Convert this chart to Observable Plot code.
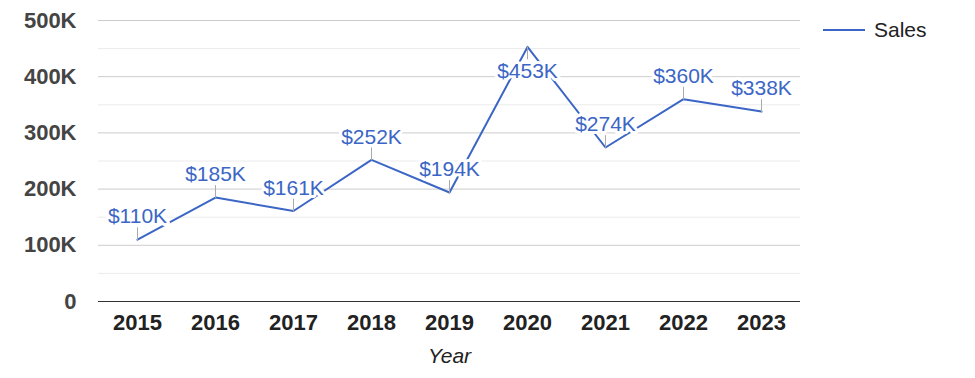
<!DOCTYPE html>
<html>
<head>
<meta charset="utf-8">
<script src="https://cdn.jsdelivr.net/npm/d3@7"></script>
<script src="https://cdn.jsdelivr.net/npm/@observablehq/plot@0.6"></script>
<style>
  html, body { margin: 0; padding: 0; background: #fff; }
  #wrap { position: relative; width: 975px; height: 378px; font-family: "Liberation Sans", Arial, sans-serif; }
  #legend { position: absolute; left: 823px; top: 16px; display: flex; align-items: center; font-size: 21px; color: #222; line-height: 28px; }
  #legend .sw { width: 42px; height: 2px; background: #3b66c5; margin-right: 9px; }
</style>
</head>
<body>
<div id="wrap">
  <div id="chart"></div>
  <div id="legend"><span class="sw"></span><span>Sales</span></div>
</div>
<script>
const years = ["2015", "2016", "2017", "2018", "2019", "2020", "2021", "2022", "2023"];
const sales = [110000, 185000, 161000, 252000, 194000, 453000, 274000, 360000, 338000];
const yTicks = [0, 100000, 200000, 300000, 400000, 500000];
const yMinor = [50000, 150000, 250000, 350000, 450000];

const data = years.map((y, i) => ({year: y, value: sales[i]}));
const blue = "#3b66c5";
const fmtK = v => "$" + Math.round(v / 1000) + "K";
const above = data.filter(d => d.value < 400000);
const below = data.filter(d => d.value >= 400000);
const stem = {draw(ctx, l) { ctx.moveTo(0, 0); ctx.lineTo(0, -l); }};

const chart = Plot.plot({
  width: 975,
  height: 378,
  marginLeft: 98,
  marginRight: 175,
  marginTop: 20,
  marginBottom: 77,
  style: {fontFamily: "'Liberation Sans', Arial, sans-serif", background: "#fff"},
  x: {type: "point", domain: years, padding: 0.5, label: null},
  y: {domain: [0, 500000], label: null},
  marks: [
    Plot.ruleY(yMinor, {stroke: "#ebebeb"}),
    Plot.ruleY(yTicks.filter(v => v > 0), {stroke: "#cccccc"}),
    Plot.ruleY([0], {stroke: "#333"}),
    Plot.axisY(yTicks, {
      tickSize: 0, tickPadding: 22, fontSize: 22, fontWeight: "bold", fill: "#444",
      tickFormat: v => v === 0 ? "0" : (v / 1000) + "K"
    }),
    Plot.axisX({
      tickSize: 0, tickPadding: 13, fontSize: 22, fontWeight: "bold", fill: "#222", label: null
    }),
    Plot.text(["Year"], {frameAnchor: "bottom", dy: 55, lineAnchor: "middle", fontSize: 21, fontStyle: "italic", fill: "#222"}),
    Plot.line(data, {x: "year", y: "value", stroke: blue, strokeWidth: 2}),
    Plot.vector(above, {x: "year", y: "value", length: 12, rotate: 0, anchor: "start", shape: stem, stroke: "#aaa", strokeWidth: 1}),
    Plot.vector(below, {x: "year", y: "value", length: 12, rotate: 180, anchor: "start", shape: stem, stroke: "#aaa", strokeWidth: 1}),
    Plot.text(above, {x: "year", y: "value", text: d => fmtK(d.value), dy: -23, fontSize: 21, fill: blue, stroke: "white", strokeWidth: 6, lineAnchor: "middle"}),
    Plot.text(below, {x: "year", y: "value", text: d => fmtK(d.value), dy: 24, fontSize: 21, fill: blue, stroke: "white", strokeWidth: 6, lineAnchor: "middle"})
  ]
});
document.getElementById("chart").appendChild(chart);
</script>
</body>
</html>
